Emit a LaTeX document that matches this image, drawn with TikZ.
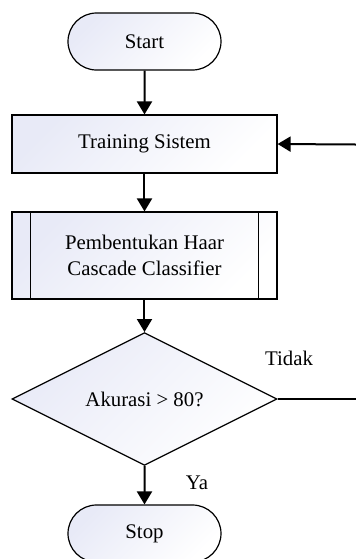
\documentclass[tikz,border=0pt]{standalone}
\usepackage{fontspec}
\setmainfont{Liberation Serif}
\usetikzlibrary{shapes.geometric,shapes.misc,arrows.meta}
\definecolor{fillc}{RGB}{232,234,247}
\begin{document}
\begin{tikzpicture}[x=0.5pt,y=-0.5pt,
  font=\fontsize{10.4pt}{13pt}\selectfont,
  shade/.style={draw=black,line width=0.6pt,top color=fillc,bottom color=white,shading angle=45},
  term/.style={shade,rounded rectangle,minimum width=76.5pt,minimum height=28.5pt,inner sep=0pt},
  proc/.style={shade,rectangle,minimum width=132.5pt,inner sep=0pt,align=center},
  dec/.style={shade,diamond,minimum width=132.5pt,minimum height=62pt,inner sep=0pt},
  flow/.style={line width=1pt,-{Triangle[length=6.5pt,width=7.5pt]}},
  plain/.style={line width=1pt},
  lbl/.style={inner sep=0pt}]
\useasboundingbox (0,0) rectangle (356,559);
\node[term] (S) at (144.5,41.5) {Start};
\node[proc,minimum height=29pt] (T) at (144.5,144) {Training Sistem};
\node[proc,minimum height=43.5pt] (P) at (144.5,255.5) {Pembentukan Haar\\Cascade Classifier};
\draw[line width=0.6pt] ([xshift=9.5pt]P.north west) -- ([xshift=9.5pt]P.south west);
\draw[line width=0.6pt] ([xshift=-9.5pt]P.north east) -- ([xshift=-9.5pt]P.south east);
\node[dec] (D) at (144.5,399) {Akurasi > 80?};
\node[term] (E) at (144.5,533.5) {Stop};
\coordinate (R1) at (356,144.5);
\coordinate (R2) at (356,399);
\node[lbl] (LT) at (289,358) {Tidak};
\node[lbl] (LY) at (197,483) {Ya};
\draw[flow] (S) -- (T);
\draw[flow] (T) -- (P);
\draw[flow] (P) -- (D);
\draw[flow] (D) -- (E);
\draw[flow] (R1) -- (T.east);
\draw[plain] (D.east) -- (R2);
\end{tikzpicture}
\end{document}
